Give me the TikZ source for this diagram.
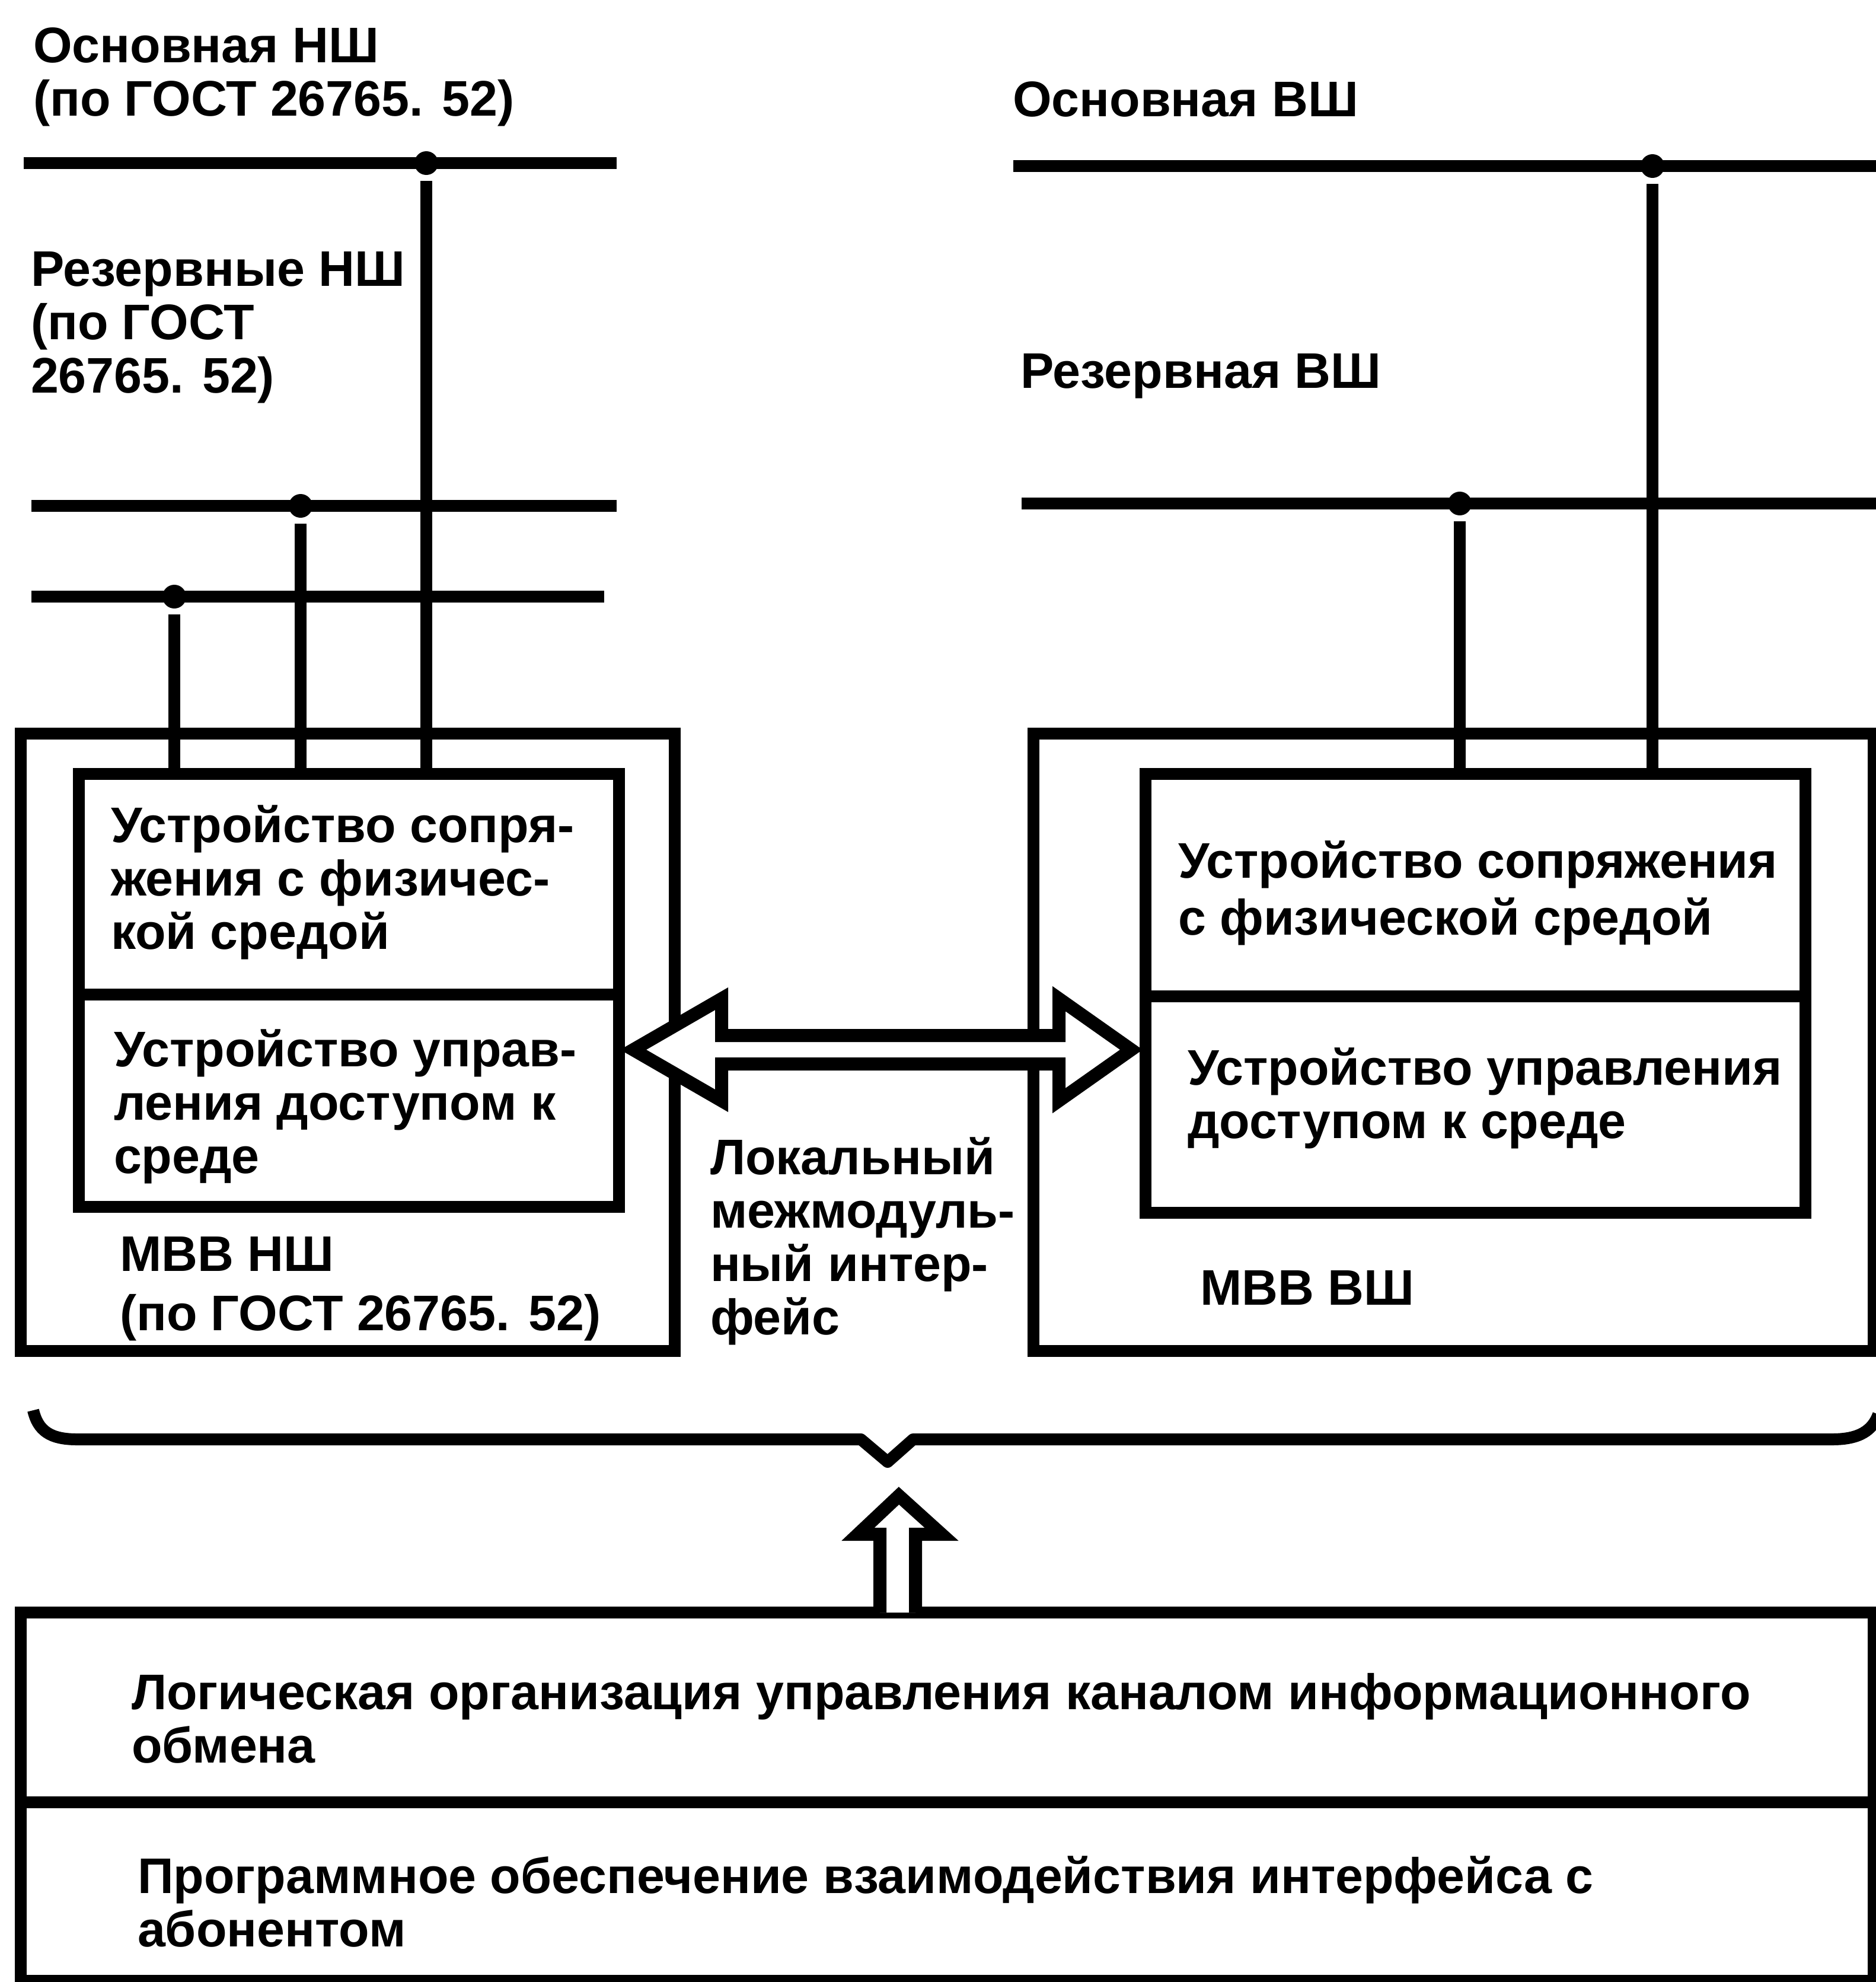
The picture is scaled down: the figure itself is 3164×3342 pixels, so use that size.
\documentclass[tikz,border=0pt]{standalone}
\usepackage{fontspec}
\setmainfont{Liberation Sans}
\usetikzlibrary{fit,calc}

\begin{document}
\begin{tikzpicture}[x=0.05mm,y=-0.05mm,line width=1mm,
  box/.style={draw,inner sep=0pt},
  dot/.style={circle,fill,inner sep=0pt,minimum size=2mm},
  lbl/.style={anchor=base west,inner sep=0pt,align=left,font=\fontsize{12}{12.8}\selectfont\bfseries}]
  \useasboundingbox (0,0) rectangle (3164,3342);
  % buses
  \draw (40,275) -- (1040,275);
  \draw (53,853) -- (1040,853);
  \draw (53,1006) -- (1019,1006);
  \draw (1709,280) -- (3170,280);
  \draw (1723,849) -- (3170,849);
  \node[dot] (nshA) at (719,275) {};
  \node[dot] (nshB) at (507,853) {};
  \node[dot] (nshC) at (294,1006) {};
  \node[dot] (vshA) at (2787,280) {};
  \node[dot] (vshB) at (2462,849) {};
  % modules
  \coordinate (a1) at (35,1237);   \coordinate (a2) at (1138,2278);
  \coordinate (b1) at (133,1305);  \coordinate (b2) at (1044,1677);
  \coordinate (b3) at (133,1677);  \coordinate (b4) at (1044,2035);
  \coordinate (c1) at (1743,1237); \coordinate (c2) at (3160,2278);
  \coordinate (d1) at (1932,1305); \coordinate (d2) at (3045,1680);
  \coordinate (d3) at (1932,1680); \coordinate (d4) at (3045,2045);
  \coordinate (e1) at (35,2719);   \coordinate (e2) at (3160,3039);
  \coordinate (e3) at (35,3039);   \coordinate (e4) at (3160,3340);
  \node[box,fit=(a1)(a2)] (nshMVV) {};
  \node[box,fit=(b1)(b2)] (nshPHY) {};
  \node[box,fit=(b3)(b4)] (nshMAC) {};
  \node[box,fit=(c1)(c2)] (vshMVV) {};
  \node[box,fit=(d1)(d2)] (vshPHY) {};
  \node[box,fit=(d3)(d4)] (vshMAC) {};
  \node[box,fit=(e1)(e2)] (logic) {};
  \node[box,fit=(e3)(e4)] (soft) {};
  \foreach \d in {nshA,nshB,nshC} \draw (\d) -- (\d |- nshPHY.north);
  \foreach \d in {vshA,vshB} \draw (\d) -- (\d |- vshPHY.north);
  % local interface
  \draw[fill=white,line width=1.1mm] (1068,1770) -- (1217,1684) -- (1217,1746) -- (1786,1746)
    -- (1786,1684) -- (1908,1770) -- (1786,1856) -- (1786,1794) -- (1217,1794) -- (1217,1856) -- cycle;
  % brace and arrow
  \draw[line join=round] (56,2378) .. controls (64,2412) and (84,2427) .. (130,2427) -- (1452,2427)
    -- (1497,2465) -- (1540,2427) -- (3090,2427) .. controls (3136,2427) and (3158,2412) .. (3168,2385);
  \draw[fill=white,line width=1.1mm] (1484,2719) -- (1484,2587) -- (1447,2587) -- (1516,2522)
    -- (1588,2587) -- (1544,2587) -- (1544,2719);
  % labels (base = last line)
  \node[lbl] (tNshA) at (46,195) {Основная НШ\\(по ГОСТ 26765. 52)};
  \node[lbl] (tNshB) at (42,662) {Резервные НШ\\(по ГОСТ\\26765. 52)};
  \node[lbl] (tVshA) at (1698,196) {Основная ВШ};
  \node[lbl] (tVshB) at (1711,654) {Резервная ВШ};
  \node[lbl] (tNshPHY) at (177,1600) {Устройство сопря-\\жения с физичес-\\кой средой};
  \node[lbl] (tNshMAC) at (182,1978) {Устройство управ-\\ления доступом к\\среде};
  \node[lbl] (tNshMVV) at (192,2243) {МВВ НШ\\[0.5mm](по ГОСТ 26765. 52)};
  \node[lbl] (tLocal) at (1188,2250) {Локальный\\межмодуль-\\ный интер-\\фейс};
  \node[lbl] (tVshPHY) at (1977,1576) {Устройство сопряжения\\[0.3mm]с физической средой};
  \node[lbl] (tVshMAC) at (1993,1919) {Устройство управления\\доступом к среде};
  \node[lbl] (tVshMVV) at (2014,2200) {МВВ ВШ};
  \node[lbl] (tLogic) at (212,2972) {Логическая организация управления каналом информационного\\обмена};
  \node[lbl] (tSoft) at (222,3282) {Программное обеспечение взаимодействия интерфейса с\\абонентом};
\end{tikzpicture}
\end{document}
